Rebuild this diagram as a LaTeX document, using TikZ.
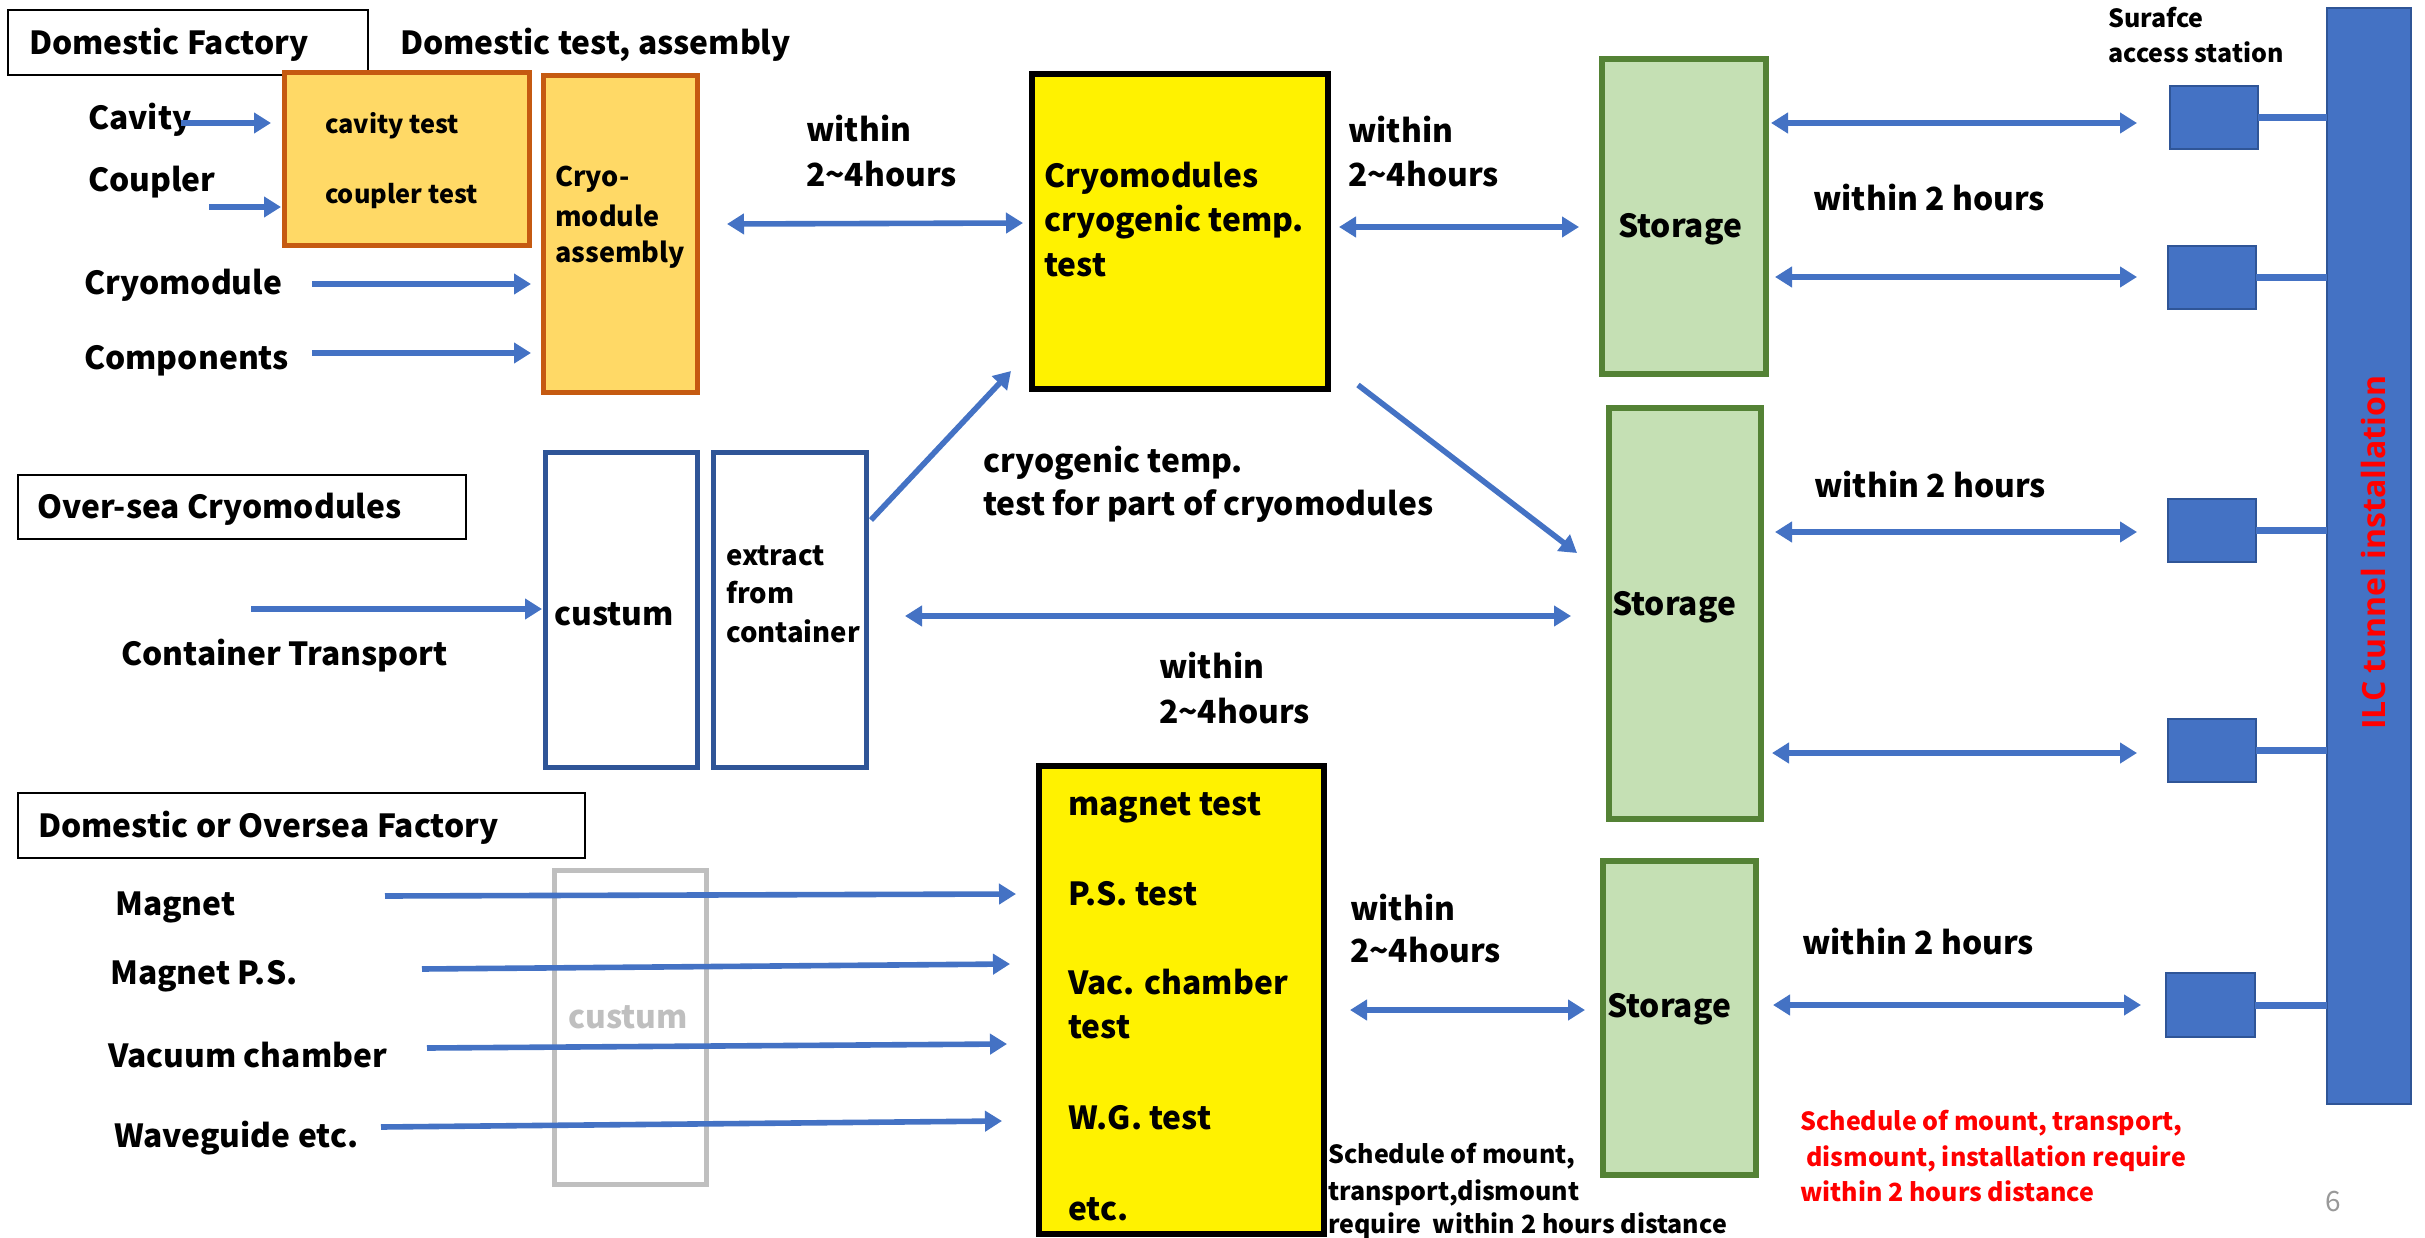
\documentclass[tikz,border=0pt]{standalone}
\usepackage{fontspec}
\setmainfont{Noto Sans CJK JP}
\newfontfamily\ilcfont{Open Sans}
\usetikzlibrary{arrows.meta}
\definecolor{ablue}{HTML}{4472C4}
\definecolor{dblue}{HTML}{2F5597}
\definecolor{ofill}{HTML}{FFD966}
\definecolor{oline}{HTML}{C55A11}
\definecolor{gfill}{HTML}{C5E0B4}
\definecolor{gline}{HTML}{548235}
\definecolor{greyline}{HTML}{BFBFBF}
\definecolor{redtxt}{HTML}{FF0000}
\tikzset{
  T/.style={anchor=base west, inner sep=0pt, font=\fontsize{31.8}{38}\selectfont\bfseries},
  Scav/.style={anchor=base west, inner sep=0pt, font=\fontsize{25.3}{31}\selectfont\bfseries},
  Sasm/.style={anchor=base west, inner sep=0pt, font=\fontsize{27}{33}\selectfont\bfseries},
  Sext/.style={anchor=base west, inner sep=0pt, font=\fontsize{27.5}{33}\selectfont\bfseries},
  XS/.style={anchor=base west, inner sep=0pt, font=\fontsize{25}{30}\selectfont\bfseries},
  bx/.style={rectangle, inner sep=0pt, outer sep=0pt},
  labelbox/.style={bx, draw=black, line width=2.5pt, fill=white},
  obox/.style={bx, draw=oline, fill=ofill, line width=5pt},
  ybox/.style={bx, draw=black, fill=yellow, line width=6pt},
  gbox/.style={bx, draw=gline, fill=gfill, line width=5.5pt},
  bbox/.style={bx, draw=dblue, fill=white, line width=5pt},
  greybx/.style={bx, draw=greyline, line width=5pt},
  sq/.style={bx, draw=dblue, fill=ablue, line width=2pt, minimum width=88pt, minimum height=63pt},
  arr/.style={draw=ablue, line width=5.6pt, -{Triangle[length=17pt,width=20pt]}},
  darr/.style={draw=ablue, line width=5.6pt, {Triangle[length=17pt,width=20pt]}-{Triangle[length=17pt,width=20pt]}},
  conn/.style={draw=ablue, line width=7pt},
}
\begin{document}
\begin{tikzpicture}[x=1pt,y=-1pt]
\fill[white] (0,0) rectangle (2425,1238);
\useasboundingbox (0,0) rectangle (2425,1238);

% ---------- boxes ----------
\node[labelbox, minimum width=360pt, minimum height=65pt] (dfbox) at (188,42.5) {};
\node[obox, minimum width=245pt, minimum height=173pt] (cavbox) at (406.5,159.5) {};
\node[obox, minimum width=154pt, minimum height=316pt] (asmbox) at (620,234) {};
\node[ybox, minimum width=296pt, minimum height=315pt] (cryotest) at (1180,231.5) {};
\node[gbox, minimum width=164pt, minimum height=315pt] (st1) at (1684,216.5) {};
\node[gbox, minimum width=152pt, minimum height=411pt] (st2) at (1685,613.5) {};
\node[gbox, minimum width=153pt, minimum height=314pt] (st3) at (1679.5,1018) {};
\node[labelbox, minimum width=448pt, minimum height=64pt] (osbox) at (242,507) {};
\node[bbox, minimum width=152pt, minimum height=315pt] (custbox) at (621,609.5) {};
\node[bbox, minimum width=153pt, minimum height=315pt] (extbox) at (789.5,609.5) {};
\node[labelbox, minimum width=567pt, minimum height=65pt] (dobox) at (301.5,825.5) {};
\node[greybx, minimum width=152pt, minimum height=314pt] (greybox) at (630,1027) {};
\node[ybox, minimum width=285pt, minimum height=468pt] (magbox) at (1181.5,1000) {};
\node[bx, draw=dblue, fill=ablue, line width=2pt, minimum width=84pt, minimum height=1096pt] (tunnel) at (2369,556) {};
\node[sq] (sq1) at (2214,117.5) {};
\node[sq] (sq2) at (2212,277.5) {};
\node[sq] (sq3) at (2212,530.5) {};
\node[sq] (sq4) at (2212,750) {};
\node[sq, minimum width=89pt, minimum height=64pt] (sq5) at (2210.5,1005) {};

% ---------- square to tunnel connectors ----------
\foreach \s in {sq1,sq2,sq3,sq4,sq5}{
  \draw[conn] (\s.east) -- (\s.east -| tunnel.west);
}

% ---------- texts ----------
\node[T] (tdf) at (29,55) {Domestic Factory};
\node[T] (tdta) at (400,55) {Domestic test, assembly};
\node[T] (tcav) at (88,130) {Cavity};
\node[T] (tcou) at (88,192) {Coupler};
\node[T] (tcry) at (84,295) {Cryomodule};
\node[T] (tcom) at (84,370) {Components};
\node[Scav] (tcavt) at (325,134) {cavity test};
\node[Scav] (tcout) at (325,204) {coupler test};
\node[Sasm] (tasm1) at (555,187) {Cryo-};
\node[Sasm] (tasm2) at (555,227) {module};
\node[Sasm] (tasm3) at (555,263) {assembly};
\node[T] (tw1a) at (806,142) {within};
\node[T] (tw1b) at (806,187) {2\char`~4hours};
\node[T] (tct1) at (1044,188) {Cryomodules};
\node[T] (tct2) at (1044,232) {cryogenic temp.};
\node[T] (tct3) at (1044,277) {test};
\node[T] (tw2a) at (1348,143) {within};
\node[T] (tw2b) at (1348,187) {2\char`~4hours};
\node[T] (tst1) at (1618,238) {Storage};
\node[T] (tw2h1) at (1813,211) {within 2 hours};
\node[XS] (tsur1) at (2108,28) {Surafce};
\node[XS] (tsur2) at (2108,63) {access station};
\node[T] (tos) at (37,518) {Over-sea Cryomodules};
\node[T] (tct) at (121,665) {Container Transport};
\node[T] (tcus) at (554,625) {custum};
\node[Sext] (tex1) at (726,565) {extract};
\node[Sext] (tex2) at (726,603) {from};
\node[Sext] (tex3) at (726,642) {container};
\node[T] (tcp1) at (983,472) {cryogenic temp.};
\node[T] (tcp2) at (983,515) {test for part of cryomodules};
\node[T] (tw3a) at (1159,678) {within};
\node[T] (tw3b) at (1159,723) {2\char`~4hours};
\node[T] (tst2) at (1612,615) {Storage};
\node[T] (tw2h2) at (1814,497) {within 2 hours};
\node[T] (tdo) at (38,837) {Domestic or Oversea Factory};
\node[T] (tmag) at (115,915) {Magnet};
\node[T] (tmps) at (110,984) {Magnet P.S.};
\node[T] (tvac) at (108,1067) {Vacuum chamber};
\node[T] (twg) at (114,1147) {Waveguide etc.};
\node[T, text=greyline] (tcus2) at (568,1028) {custum};
\node[T] (tm1) at (1068,815) {magnet test};
\node[T] (tm2) at (1068,905) {P.S. test};
\node[T] (tm3) at (1068,994) {Vac. chamber};
\node[T] (tm4) at (1068,1038) {test};
\node[T] (tm5) at (1068,1129) {W.G. test};
\node[T] (tm6) at (1068,1220) {etc.};
\node[T] (tw4a) at (1350,920) {within};
\node[T] (tw4b) at (1350,962) {2\char`~4hours};
\node[T] (tst3) at (1607,1017) {Storage};
\node[T] (tw2h3) at (1802,954) {within 2 hours};
\node[XS] (tsch1) at (1328,1163) {Schedule of mount,};
\node[XS] (tsch2) at (1328,1200) {transport,dismount};
\node[XS] (tsch3) at (1328,1233) {require\ \ within 2 hours distance};
\node[XS, text=redtxt] (trd1) at (1800,1130) {Schedule of mount, transport,};
\node[XS, text=redtxt] (trd2) at (1806,1166) {dismount, installation require};
\node[XS, text=redtxt] (trd3) at (1800,1201) {within 2 hours distance};
\node[anchor=base west, inner sep=0pt, text=gray!80, font=\fontsize{28}{34}\selectfont] (tpg) at (2325,1211) {6};
\node[anchor=base west, inner sep=0pt, rotate=90, text=redtxt, font=\ilcfont\fontsize{32}{38}\selectfont\bfseries] (tilc) at (2385,730) {ILC tunnel installation};

% ---------- arrow end points ----------
\coordinate (aCav0) at (181,123);  \coordinate (aCav1) at (271,123);
\coordinate (aCou0) at (209,207);  \coordinate (aCou1) at (281,207);
\coordinate (aCry0) at (312,284);  \coordinate (aCry1) at (531,284);
\coordinate (aCom0) at (312,353);  \coordinate (aCom1) at (531,353);
\coordinate (d1a) at (727,224);    \coordinate (d1b) at (1023,223);
\coordinate (d2a) at (1339,227);   \coordinate (d2b) at (1579,227);
\coordinate (d3a) at (1771,123);   \coordinate (d3b) at (2137,123);
\coordinate (d4a) at (1775,277);   \coordinate (d4b) at (2137,277);
\coordinate (aCt0) at (251,609);   \coordinate (aCt1) at (542,609);
\coordinate (aEx0) at (871,520);   \coordinate (aEx1) at (1011,371);
\coordinate (aSt0) at (1358,385);  \coordinate (aSt1) at (1577,553);
\coordinate (d5a) at (905,616);    \coordinate (d5b) at (1571,616);
\coordinate (d6a) at (1775,532);   \coordinate (d6b) at (2137,532);
\coordinate (d7a) at (1772,753);   \coordinate (d7b) at (2137,753);
\coordinate (aMg0) at (385,896);   \coordinate (aMg1) at (1016,894);
\coordinate (aPs0) at (422,969);   \coordinate (aPs1) at (1010,964);
\coordinate (aVc0) at (427,1048);  \coordinate (aVc1) at (1007,1044);
\coordinate (aWg0) at (381,1127);  \coordinate (aWg1) at (1002,1121);
\coordinate (d8a) at (1350,1010);  \coordinate (d8b) at (1585,1010);
\coordinate (d9a) at (1773,1005);  \coordinate (d9b) at (2141,1005);

% ---------- arrows ----------
\draw[arr] (aCav0) -- (aCav1);
\draw[arr] (aCou0) -- (aCou1);
\draw[arr] (aCry0) -- (aCry1);
\draw[arr] (aCom0) -- (aCom1);
\draw[darr] (d1a) -- (d1b);
\draw[darr] (d2a) -- (d2b);
\draw[darr] (d3a) -- (d3b);
\draw[darr] (d4a) -- (d4b);
\draw[arr] (aCt0) -- (aCt1);
\draw[arr] (aEx0) -- (aEx1);
\draw[arr] (aSt0) -- (aSt1);
\draw[darr] (d5a) -- (d5b);
\draw[darr] (d6a) -- (d6b);
\draw[darr] (d7a) -- (d7b);
\draw[arr] (aMg0) -- (aMg1);
\draw[arr] (aPs0) -- (aPs1);
\draw[arr] (aVc0) -- (aVc1);
\draw[arr] (aWg0) -- (aWg1);
\draw[darr] (d8a) -- (d8b);
\draw[darr] (d9a) -- (d9b);
\end{tikzpicture}
\end{document}
